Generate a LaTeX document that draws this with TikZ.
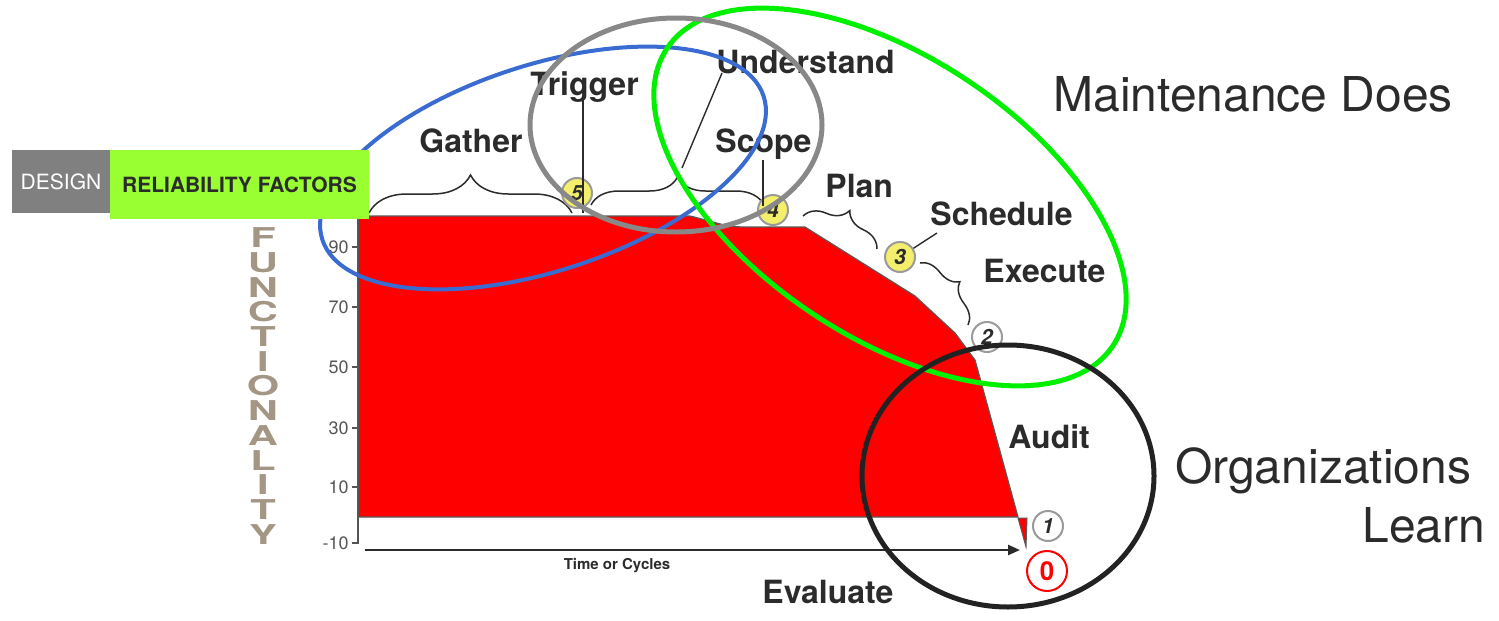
\documentclass[tikz,border=0pt]{standalone}
\usepackage{fontspec}
\setmainfont{TeX Gyre Heros}
\usetikzlibrary{decorations.pathreplacing,arrows.meta}
\definecolor{lbl}{HTML}{2B2B2B}
\definecolor{designgray}{HTML}{808080}
\definecolor{relgreen}{HTML}{99FF33}
\definecolor{mkyellow}{HTML}{F3EF6C}
\definecolor{mkgray}{HTML}{9A9A9A}
\definecolor{ellblue}{HTML}{3A6BD0}
\definecolor{ellgreen}{HTML}{00F000}
\definecolor{ellgray}{HTML}{888888}
\definecolor{ellblack}{HTML}{222222}
\definecolor{tan}{HTML}{A39684}
\definecolor{axgray}{HTML}{555555}
\tikzset{
  lab/.style={anchor=base west, inner sep=0pt, text=lbl, font=\bfseries\fontsize{16}{18}\selectfont},
  big/.style={anchor=base west, inner sep=0pt, text=lbl, font=\fontsize{24}{28}\selectfont},
  mk/.style={circle, fill=mkyellow, draw=mkgray, line width=1pt, minimum size=15pt, inner sep=0pt, text=lbl, font=\bfseries\itshape\fontsize{10.5}{10.5}\selectfont},
  mkw/.style={mk, fill=white},
  mkzero/.style={circle, fill=white, draw=red, line width=1pt, minimum size=20pt, inner sep=0pt, text=red, font=\bfseries\fontsize{13}{13}\selectfont},
  brc/.style={decorate, draw=lbl, line width=0.75pt},
  lead/.style={draw=lbl, line width=0.7pt},
  funl/.style={inner sep=0pt, text=tan, align=center, font=\bfseries\fontsize{13}{12.35}\selectfont},
  ticklab/.style={anchor=east, inner sep=0pt, text=axgray, font=\fontsize{9}{9}\selectfont},
}
\newcommand{\fw}[1]{\scalebox{1.6}[1.05]{#1}}
\begin{document}
\begin{tikzpicture}[x=0.5pt,y=-0.5pt]
\useasboundingbox (0,0) rectangle (1499,621);

% red functionality area
\filldraw[fill=red, draw=black!65, line width=0.6pt]
  (358,216) -- (690,216) .. controls (715,222) and (725,227) .. (745,227) -- (805,227)
  -- (915,296) -- (955,333) -- (975,360) -- (1018,517) -- (358,517) -- cycle;
\filldraw[fill=red, draw=black!65, line width=0.5pt] (1018,518) -- (1027,518) -- (1026,547) -- cycle;

% axis
\draw[axgray, line width=0.7pt] (358,216) -- (358,543) -- (353,543);
\foreach \v/\yy in {90/247,70/307,50/367,30/428,10/487,-10/543}{
  \draw[axgray, line width=0.6pt] (352,\yy) -- (358,\yy);
  \node[ticklab] at (349,\yy) {\v};
}
\coordinate (tstart) at (365,550);
\coordinate (tend) at (1020,550);
\draw[lbl, line width=1.2pt, -{Triangle[length=6pt,width=5pt]}] (tstart) -- (tend);
\node[text=lbl, font=\bfseries\fontsize{7.5}{8}\selectfont] (time) at (617,566) {Time or Cycles};

% vertical word
\node[funl] (funcword) at (263,386) {\fw{F}\\\fw{U}\\\fw{N}\\\fw{C}\\\fw{T}\\\fw{I}\\\fw{O}\\\fw{N}\\\fw{A}\\\fw{L}\\\fw{I}\\\fw{T}\\\fw{Y}};

% braces
\draw[brc, decoration={brace,amplitude=19pt}] (369,213) -- (572,213);
\draw[brc, decoration={brace,amplitude=14pt}] (591,205) -- (764,205);
\draw[brc, decoration={brace,amplitude=12pt}] (803,216) -- (877,249);
\draw[brc, decoration={brace,amplitude=10pt}] (920,263) -- (968,325);

% markers
\node[mk] (m5) at (577,193) {5};
\node[mk] (m4) at (773,210) {4};
\node[mk] (m3) at (900,257) {3};
\node[mkw] (m2) at (987,337) {2};
\node[mkw] (m1) at (1048,526) {1};
\node[mkzero] (m0) at (1047,571) {0};

% labels
\node[lab] (gather) at (419,152) {Gather};
\node[lab] (trigger) at (530,95) {Trigger};
\node[lab] (understand) at (716,73) {Understand};
\node[lab] (scope) at (715,152) {Scope};
\node[lab] (plan) at (825,197) {Plan};
\node[lab] (schedule) at (930,225) {Schedule};
\node[lab] (execute) at (983,282) {Execute};
\node[lab] (audit) at (1008,448) {Audit};
\node[lab] (evaluate) at (762,603) {Evaluate};

% leader lines
\coordinate (trigA) at (583,100);
\coordinate (trigB) at (583,213);
\draw[lead] (trigA) -- (trigB);
\coordinate (scA) at (763,160);
\coordinate (scB) at (763,206);
\draw[lead] (scA) -- (scB);
\coordinate (unA) at (722,73);
\coordinate (unB) at (682,168);
\draw[lead] (unA) -- (unB);
\coordinate (schA) at (937,233);
\draw[lead] (schA) -- (m3);

% ellipses
\draw[ellblue, line width=2pt, rotate around={18:(543,168)}] (543,168) ellipse [x radius=232, y radius=103];
\draw[ellgreen, line width=2.5pt, rotate around={-33.7:(890,197)}] (890,197) ellipse [x radius=268, y radius=140];
\draw[ellgray, line width=2.5pt] (676,125) ellipse [x radius=146, y radius=107];
\draw[ellblack, line width=2.5pt] (1008,476) ellipse [x radius=146, y radius=131];

% header boxes (on top of the blue ellipse)
\node[fill=designgray, minimum width=49pt, minimum height=31.5pt, inner sep=0pt, text=white, font=\fontsize{10.5}{12}\selectfont] (design) at (61,181.5) {DESIGN};
\node[fill=relgreen, minimum width=129.5pt, minimum height=34.5pt, inner sep=0pt, text=lbl, font=\bfseries\fontsize{10.5}{12}\selectfont] (relf) at (239.5,184.5) {RELIABILITY FACTORS};

% big texts
\node[big] (maint) at (1053,111) {Maintenance Does};
\node[big] (org) at (1175,483) {Organizations};
\node[big] (learn) at (1362,542) {Learn};
\end{tikzpicture}
\end{document}
